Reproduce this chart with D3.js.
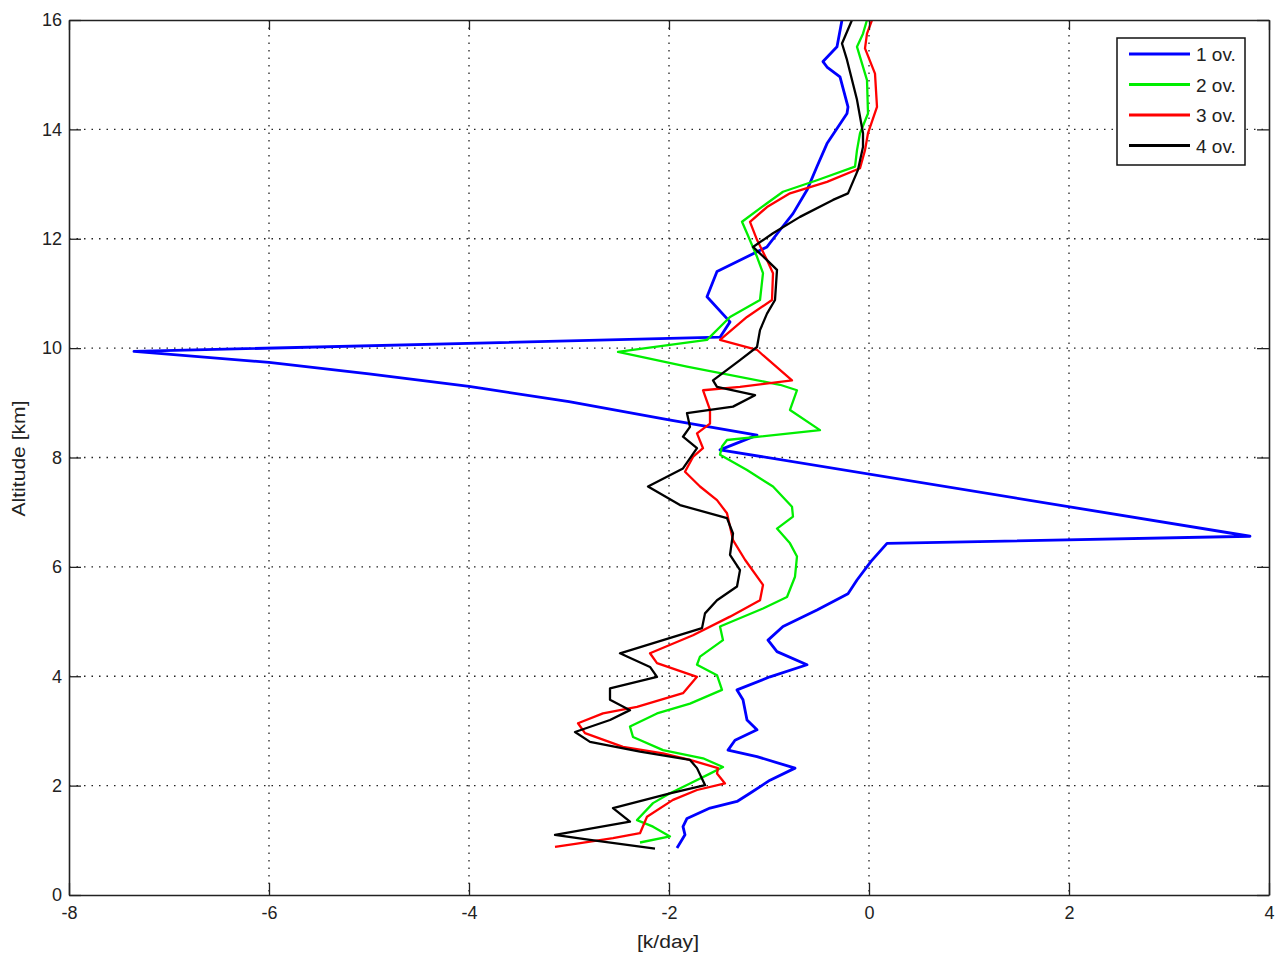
<!DOCTYPE html>
<html>
<head>
<meta charset="utf-8">
<script src="https://cdn.jsdelivr.net/npm/d3@7"></script>
<style>
  body { margin: 0; background: #fff; }
  svg { display: block; font-family: "Liberation Sans", Arial, sans-serif; }
</style>
</head>
<body>
<svg id="chart" width="1280" height="954"></svg>
<script>
// heating rate profiles [k/day] vs altitude [km]
const ov1Rate = [-1.92, -1.84, -1.86, -1.82, -1.59, -1.32, -1.19, -0.99, -0.74, -1.12, -1.41, -1.34, -1.12, -1.22, -1.26, -1.32, -0.99, -0.62, -0.92, -1.01, -0.86, -0.52, -0.21, -0.12, 0.02, 0.18, 3.81, -1.49, -1.12, -2.0, -3.0, -4.0, -5.0, -6.0, -7.35, -1.49, -1.39, -1.62, -1.52, -1.22, -1.02, -0.89, -0.76, -0.62, -0.52, -0.42, -0.22, -0.21, -0.29, -0.42, -0.46, -0.32, -0.27];
const ov1Alt = [0.86, 1.10, 1.25, 1.40, 1.59, 1.71, 1.86, 2.10, 2.32, 2.53, 2.65, 2.83, 3.02, 3.20, 3.57, 3.75, 3.99, 4.21, 4.45, 4.66, 4.91, 5.21, 5.51, 5.76, 6.10, 6.43, 6.56, 8.14, 8.41, 8.69, 9.02, 9.30, 9.53, 9.74, 9.94, 10.20, 10.48, 10.94, 11.40, 11.67, 11.85, 12.16, 12.46, 12.89, 13.32, 13.74, 14.29, 14.41, 14.96, 15.14, 15.24, 15.51, 16.0];

const ov2Rate = [-2.29, -1.99, -2.16, -2.32, -2.16, -1.99, -1.79, -1.59, -1.46, -1.66, -2.06, -2.36, -2.39, -2.12, -1.79, -1.47, -1.52, -1.72, -1.69, -1.46, -1.49, -1.06, -0.82, -0.74, -0.72, -0.79, -0.92, -0.76, -0.77, -0.96, -1.22, -1.49, -1.47, -1.42, -0.49, -0.79, -0.72, -0.89, -1.82, -2.51, -1.62, -1.39, -1.09, -1.06, -1.12, -1.22, -1.27, -1.02, -0.86, -0.52, -0.14, -0.12, -0.09, -0.01, -0.02, -0.12, -0.06, -0.02];
const ov2Alt = [0.96, 1.07, 1.25, 1.37, 1.68, 1.86, 2.04, 2.22, 2.34, 2.50, 2.65, 2.89, 3.08, 3.32, 3.50, 3.75, 4.02, 4.21, 4.36, 4.66, 4.91, 5.24, 5.45, 5.82, 6.19, 6.43, 6.70, 6.92, 7.10, 7.47, 7.77, 8.05, 8.20, 8.32, 8.50, 8.87, 9.23, 9.33, 9.66, 9.93, 10.15, 10.57, 10.88, 11.37, 11.67, 12.10, 12.31, 12.65, 12.86, 13.07, 13.32, 13.62, 13.93, 14.29, 14.90, 15.51, 15.75, 16.0];

const ov3Rate = [-3.14, -2.92, -2.56, -2.29, -2.22, -1.96, -1.72, -1.44, -1.52, -1.51, -1.79, -2.06, -2.46, -2.84, -2.91, -2.66, -2.32, -1.86, -1.72, -2.12, -2.19, -1.76, -1.39, -1.09, -1.06, -1.24, -1.36, -1.42, -1.52, -1.69, -1.84, -1.76, -1.66, -1.72, -1.59, -1.59, -1.66, -1.29, -0.77, -1.06, -1.12, -1.49, -1.22, -0.97, -0.96, -1.02, -1.12, -1.19, -1.02, -0.79, -0.42, -0.09, -0.04, -0.01, 0.08, 0.06, -0.04, -0.02, 0.03];
const ov3Alt = [0.88, 0.94, 1.04, 1.13, 1.43, 1.74, 1.92, 2.04, 2.22, 2.32, 2.47, 2.59, 2.71, 2.96, 3.14, 3.32, 3.44, 3.69, 3.99, 4.24, 4.42, 4.75, 5.09, 5.39, 5.67, 6.13, 6.49, 6.98, 7.22, 7.47, 7.74, 8.01, 8.17, 8.44, 8.62, 8.87, 9.23, 9.29, 9.41, 9.87, 9.97, 10.15, 10.57, 10.88, 11.37, 11.61, 11.98, 12.31, 12.58, 12.83, 13.04, 13.29, 13.62, 13.93, 14.41, 15.02, 15.48, 15.75, 16.0];

const ov4Rate = [-2.14, -2.79, -3.14, -2.39, -2.56, -1.99, -1.64, -1.72, -1.79, -2.29, -2.79, -2.94, -2.59, -2.39, -2.59, -2.59, -2.12, -2.19, -2.42, -2.49, -2.06, -1.67, -1.64, -1.52, -1.32, -1.29, -1.39, -1.36, -1.42, -1.89, -2.21, -1.86, -1.72, -1.86, -1.79, -1.82, -1.36, -1.14, -1.52, -1.56, -1.29, -1.12, -1.09, -1.02, -0.94, -0.92, -1.02, -1.16, -0.96, -0.69, -0.36, -0.21, -0.11, -0.06, -0.06, -0.12, -0.22, -0.27, -0.17];
const ov4Alt = [0.85, 1.01, 1.10, 1.34, 1.59, 1.86, 2.01, 2.32, 2.47, 2.62, 2.80, 2.98, 3.20, 3.38, 3.57, 3.78, 3.99, 4.17, 4.36, 4.42, 4.66, 4.88, 5.15, 5.39, 5.64, 5.94, 6.22, 6.61, 6.89, 7.13, 7.47, 7.80, 8.17, 8.38, 8.56, 8.81, 8.93, 9.14, 9.29, 9.41, 9.78, 10.02, 10.33, 10.63, 10.88, 11.43, 11.61, 11.85, 12.10, 12.40, 12.71, 12.83, 13.26, 13.68, 13.93, 14.54, 15.27, 15.57, 16.0];

const seriesNames = ["1 ov.", "2 ov.", "3 ov.", "4 ov."];
const seriesColors = ["#0000ff", "#00ee00", "#ff0000", "#000000"];
const xTicks = [-8, -6, -4, -2, 0, 2, 4];
const yTicks = [0, 2, 4, 6, 8, 10, 12, 14, 16];

const series = [
    { rate: ov1Rate, alt: ov1Alt },
    { rate: ov2Rate, alt: ov2Alt },
    { rate: ov3Rate, alt: ov3Alt },
    { rate: ov4Rate, alt: ov4Alt }
];

const margin = { top: 20, right: 11, bottom: 59, left: 69 };
const width = 1280 - margin.left - margin.right;
const height = 954 - margin.top - margin.bottom;

const svg = d3.select("#chart");
const g = svg.append("g").attr("transform", `translate(${margin.left},${margin.top})`);

const x = d3.scaleLinear().domain([-8, 4]).range([0, width]);
const y = d3.scaleLinear().domain([0, 16]).range([height, 0]);

// dotted grid
g.append("g")
    .selectAll("line")
    .data(xTicks.slice(1, -1))
    .join("line")
    .attr("x1", d => x(d)).attr("x2", d => x(d))
    .attr("y1", 0).attr("y2", height)
    .attr("stroke", "#222").attr("stroke-width", 1.3)
    .attr("stroke-dasharray", "1.5,6");
g.append("g")
    .selectAll("line")
    .data(yTicks.slice(1, -1))
    .join("line")
    .attr("y1", d => y(d)).attr("y2", d => y(d))
    .attr("x1", 0).attr("x2", width)
    .attr("stroke", "#222").attr("stroke-width", 1.3)
    .attr("stroke-dasharray", "1.5,6");

g.append("clipPath").attr("id", "clip")
    .append("rect").attr("width", width).attr("height", height);

const line = d3.line()
    .x(d => x(d[0]))
    .y(d => y(d[1]));

g.append("g").attr("clip-path", "url(#clip)")
    .selectAll("path")
    .data(series)
    .join("path")
    .attr("d", s => line(d3.zip(s.rate, s.alt)))
    .attr("fill", "none")
    .attr("stroke", (s, i) => seriesColors[i])
    .attr("stroke-width", (s, i) => i === 0 ? 2.8 : 2.3)
    .attr("stroke-linejoin", "round");

// axes, matlab style box with inward ticks
function styleAxis(sel) {
    sel.select(".domain").attr("stroke", "#222").attr("stroke-width", 1.6);
    sel.selectAll(".tick line").attr("stroke", "#222").attr("stroke-width", 1.3);
    sel.selectAll(".tick text").attr("fill", "#222")
        .style("font-family", "'Liberation Sans', Arial, sans-serif")
        .style("font-size", "18px");
}
const plain = d => String(d);

g.append("g")
    .attr("transform", `translate(0,${height})`)
    .call(d3.axisBottom(x).tickValues(xTicks).tickFormat(plain).tickSizeInner(-12).tickSizeOuter(0).tickPadding(11))
    .call(styleAxis);
g.append("g")
    .call(d3.axisLeft(y).tickValues(yTicks).tickFormat(plain).tickSizeInner(-12).tickSizeOuter(0).tickPadding(7))
    .call(styleAxis);
g.append("g")
    .call(d3.axisTop(x).tickValues(xTicks).tickSizeInner(-10).tickSizeOuter(0).tickFormat(""))
    .call(styleAxis);
g.append("g")
    .attr("transform", `translate(${width},0)`)
    .call(d3.axisRight(y).tickValues(yTicks).tickSizeInner(-12).tickSizeOuter(0).tickFormat(""))
    .call(styleAxis);

// axis titles
svg.append("text")
    .attr("x", margin.left + x(-2) - 1)
    .attr("y", 948)
    .attr("text-anchor", "middle")
    .attr("fill", "#222")
    .attr("textLength", 62)
    .attr("lengthAdjust", "spacingAndGlyphs")
    .style("font-size", "18px")
    .text("[k/day]");
svg.append("text")
    .attr("transform", `translate(25,${margin.top + y(8) + 1}) rotate(-90)`)
    .attr("text-anchor", "middle")
    .attr("fill", "#222")
    .attr("textLength", 116)
    .attr("lengthAdjust", "spacingAndGlyphs")
    .style("font-size", "18px")
    .text("Altitude [km]");

// legend
const legend = svg.append("g").attr("transform", "translate(1117,38)");
legend.append("rect")
    .attr("width", 128).attr("height", 127)
    .attr("fill", "#fff").attr("stroke", "#111").attr("stroke-width", 1.5);
const item = legend.selectAll(".item")
    .data(seriesNames)
    .join("g")
    .attr("class", "item")
    .attr("transform", (d, i) => `translate(0,${16 + i * 30.5})`);
item.append("line")
    .attr("x1", 12).attr("x2", 73)
    .attr("stroke", (d, i) => seriesColors[i])
    .attr("stroke-width", 3);
item.append("text")
    .attr("x", 79).attr("y", 7)
    .attr("fill", "#222")
    .style("font-size", "19px")
    .text(d => d);
</script>
</body>
</html>
